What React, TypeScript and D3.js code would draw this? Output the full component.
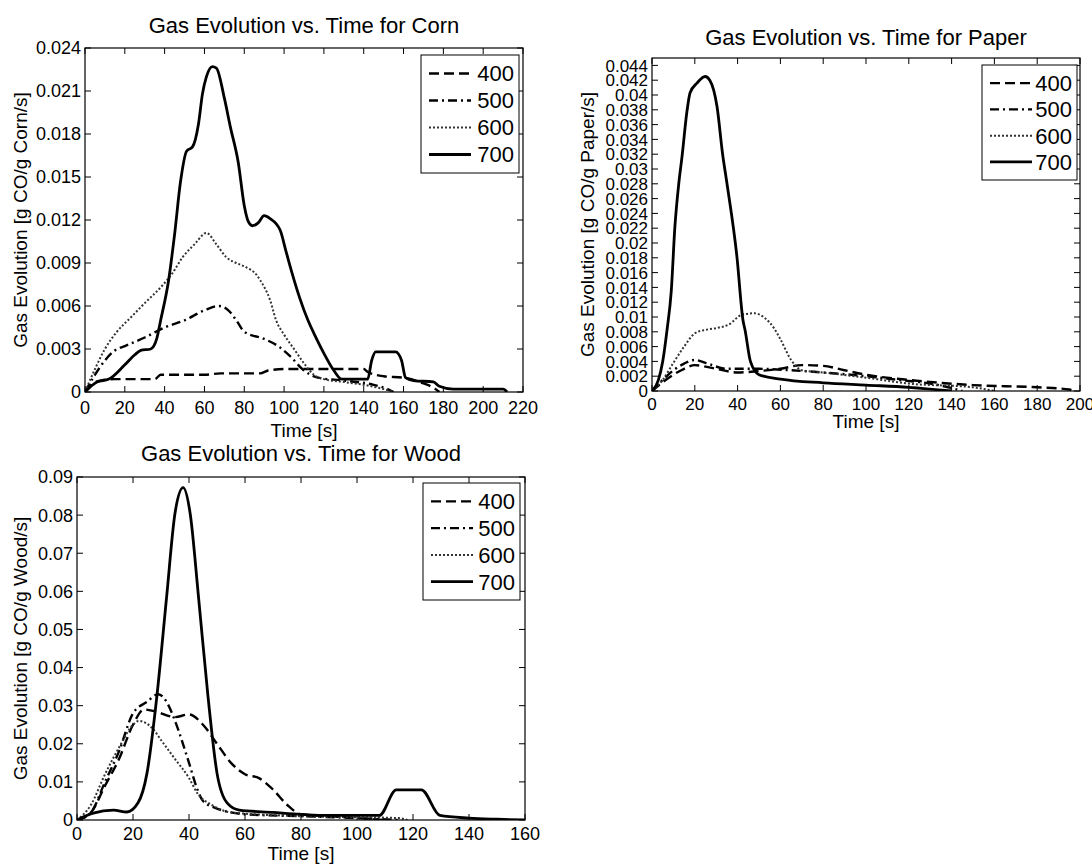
import React from "react";
import * as d3 from "d3";

type Pt = [number, number];

const seriesNames = ["400", "500", "600", "700"];

// Corn
const corn400: Pt[] = [[0,0],[3,0.0005],[8,0.0008],[15,0.0009],[35,0.0009],[38,0.0012],[60,0.0012],[68,0.0013],[88,0.0013],[92,0.0015],[100,0.0016],[140,0.0016],[142,0.0014],[150,0.0011],[160,0.001],[170,0.0006],[175,0.0003],[178,0]];
const corn500: Pt[] = [[0,0],[5,0.0012],[10,0.0022],[15,0.0029],[20,0.0032],[30,0.0038],[40,0.0045],[50,0.005],[60,0.0057],[67,0.006],[72,0.0057],[76,0.005],[80,0.0042],[90,0.0037],[97,0.0032],[103,0.0025],[110,0.0015],[117,0.001],[130,0.0008],[145,0.0005],[152,0.0002],[155,0]];
const corn600: Pt[] = [[0,0],[5,0.0016],[10,0.003],[16,0.0042],[23,0.0052],[30,0.0062],[38,0.0073],[44,0.0083],[49,0.0094],[55,0.0103],[61,0.0111],[66,0.0103],[71,0.0094],[76,0.009],[81,0.0087],[86,0.0082],[88,0.0078],[93,0.0064],[96,0.005],[100,0.004],[105,0.003],[110,0.002],[115,0.0012],[120,0.0009],[130,0.0007],[140,0.0005],[150,0.0002],[155,0]];
const corn700: Pt[] = [[0,0],[3,0.0004],[6,0.0007],[12,0.0009],[20,0.0019],[25,0.0026],[28,0.0029],[33,0.003],[36,0.0037],[38,0.005],[42,0.0078],[45,0.011],[48,0.0147],[51,0.0168],[54,0.0171],[57,0.0187],[59,0.0208],[61,0.022],[64,0.0227],[66,0.0226],[70,0.0205],[73,0.0185],[77,0.016],[80,0.013],[82,0.0119],[84,0.0116],[87,0.0118],[90,0.0123],[93,0.0121],[98,0.0113],[101,0.0098],[104,0.0083],[108,0.0065],[112,0.005],[116,0.0038],[120,0.0027],[125,0.0015],[129,0.0009],[142,0.0009],[144,0.0022],[146,0.0028],[156,0.0028],[159,0.0022],[161,0.001],[165,0.0008],[175,0.0007],[178,0.0004],[185,0.0002],[210,0.0002],[212,0]];

// Paper
const paper400: Pt[] = [[0,0],[5,0.0012],[10,0.0022],[15,0.003],[20,0.0035],[25,0.0033],[30,0.003],[40,0.0025],[50,0.0027],[60,0.003],[70,0.0035],[80,0.0034],[90,0.0028],[100,0.0022],[120,0.0015],[150,0.0008],[180,0.0005],[195,0.0002],[197,0]];
const paper500: Pt[] = [[0,0],[5,0.0015],[10,0.0028],[15,0.0037],[20,0.0042],[25,0.0038],[35,0.003],[50,0.003],[65,0.0028],[80,0.0025],[100,0.002],[115,0.0015],[130,0.001],[140,0.0004],[145,0]];
const paper600: Pt[] = [[0,0],[5,0.0015],[10,0.0038],[15,0.006],[20,0.0078],[24,0.0082],[30,0.0085],[36,0.009],[42,0.0103],[48,0.0105],[53,0.0098],[57,0.0085],[60,0.007],[65,0.0042],[70,0.0028],[80,0.0025],[100,0.0018],[120,0.001],[150,0.0005],[160,0]];
const paper700: Pt[] = [[0,0],[3,0.0015],[5,0.004],[7,0.0082],[9,0.0135],[10.7,0.0222],[12.5,0.028],[14,0.0316],[16.3,0.0377],[17.8,0.0403],[21,0.0416],[24.8,0.0425],[27,0.042],[30.4,0.0384],[33,0.032],[35,0.0281],[39.7,0.0181],[42.5,0.0096],[43.5,0.0082],[46,0.004],[50,0.0022],[60,0.0016],[80,0.0011],[100,0.0008],[120,0.0005],[140,0]];

// Wood
const wood400: Pt[] = [[0,0],[5,0.002],[10,0.009],[15,0.016],[20,0.025],[24,0.029],[28,0.0285],[35,0.027],[40,0.0277],[45,0.025],[50,0.02],[55,0.015],[60,0.012],[65,0.011],[70,0.008],[75,0.004],[80,0.0015],[90,0.001],[100,0.0005],[110,0]];
const wood500: Pt[] = [[0,0],[5,0.002],[10,0.01],[15,0.018],[20,0.028],[25,0.031],[29,0.033],[32,0.031],[35,0.026],[40,0.015],[43,0.008],[45,0.005],[50,0.003],[55,0.002],[60,0.0015],[80,0.001],[100,0.0005],[115,0]];
const wood600: Pt[] = [[0,0],[5,0.004],[10,0.012],[15,0.019],[20,0.025],[22,0.026],[27,0.024],[30,0.021],[35,0.016],[40,0.011],[43,0.007],[48,0.004],[55,0.002],[80,0.001],[115,0.0005],[118,0]];
const wood700: Pt[] = [[0,0],[5.8,0.0018],[13,0.0026],[17.8,0.0021],[21.8,0.0045],[25,0.0123],[28.5,0.0323],[32,0.0585],[35,0.0805],[37.9,0.0872],[40.4,0.0805],[43.4,0.0585],[46.8,0.0323],[50,0.0123],[53.6,0.0045],[58,0.0026],[70,0.002],[80,0.0015],[90,0.0012],[108,0.0012],[114,0.0079],[123,0.0079],[129.6,0.0012],[140,0.0005],[150,0.0002],[160,0]];

const cornXTicks = d3.range(0, 221, 20);
const cornYTicks = d3.range(0, 0.0241, 0.003);
const paperXTicks = d3.range(0, 201, 20);
const paperYTicks = d3.range(0, 0.0441, 0.002);
const woodXTicks = d3.range(0, 161, 20);
const woodYTicks = d3.range(0, 0.0901, 0.01);

const styles = [
  { dash: "10,5", width: 2.4, color: "#000" },
  { dash: "9,4,2,4", width: 2.4, color: "#000" },
  { dash: "2,2", width: 2, color: "#333" },
  { dash: "", width: 2.8, color: "#000" },
];

const FONT = "'Liberation Sans', Arial, Helvetica, sans-serif";

function fmt(v: number) {
  const r = Math.round(v * 1000) / 1000;
  if (r === 0) return "0";
  return String(r);
}

interface PanelProps {
  id: string;
  title: string;
  ylabel: string;
  series: Pt[][];
  xDomain: [number, number];
  yDomain: [number, number];
  xTicks: number[];
  yTicks: number[];
  left: number; right: number; top: number; bottom: number;
  titleY: number;
  xTickY: number;
  xLabelY: number;
  yLabelX: number;
  legend: { x: number; y: number; w: number; h: number };
  tickFont: number;
}

function Panel(p: PanelProps) {
  const x = d3.scaleLinear().domain(p.xDomain).range([p.left, p.right]);
  const y = d3.scaleLinear().domain(p.yDomain).range([p.bottom, p.top]);
  const line = d3.line<Pt>().x(d => x(d[0])).y(d => y(d[1])).curve(d3.curveMonotoneX);
  const tl = 6;
  const cx = (p.left + p.right) / 2;
  const cy = (p.top + p.bottom) / 2;
  const lg = p.legend;
  const rowH = (lg.h - 10) / 4;
  return (
    <g>
      <defs>
        <clipPath id={"clip-" + p.id}>
          <rect x={p.left} y={p.top} width={p.right - p.left} height={p.bottom - p.top} />
        </clipPath>
      </defs>
      <text x={cx} y={p.titleY} textAnchor="middle" fontSize={22} fontFamily={FONT}>{p.title}</text>
      <g clipPath={`url(#clip-${p.id})`}>
        {p.series.map((s, i) => (
          <path key={i} d={line(s) || ""} fill="none" stroke={styles[i].color}
            strokeWidth={styles[i].width} strokeDasharray={styles[i].dash} strokeLinejoin="round" />
        ))}
      </g>
      <rect x={p.left} y={p.top} width={p.right - p.left} height={p.bottom - p.top} fill="none" stroke="#000" strokeWidth={1.2} />
      {p.xTicks.map(t => (
        <g key={"xt" + t}>
          <line x1={x(t)} x2={x(t)} y1={p.bottom} y2={p.bottom - tl} stroke="#000" />
          <line x1={x(t)} x2={x(t)} y1={p.top} y2={p.top + tl} stroke="#000" />
          <text x={x(t)} y={p.xTickY} textAnchor="middle" fontSize={p.tickFont} fontFamily={FONT}>{fmt(t)}</text>
        </g>
      ))}
      {p.yTicks.map(t => (
        <g key={"yt" + t}>
          <line x1={p.left} x2={p.left + tl} y1={y(t)} y2={y(t)} stroke="#000" />
          <line x1={p.right} x2={p.right - tl} y1={y(t)} y2={y(t)} stroke="#000" />
          <text x={p.left - 4} y={y(t)} dy="0.36em" textAnchor="end" fontSize={p.tickFont} fontFamily={FONT}>{fmt(t)}</text>
        </g>
      ))}
      <text x={cx} y={p.xLabelY} textAnchor="middle" fontSize={19} fontFamily={FONT}>Time [s]</text>
      <text transform={`translate(${p.yLabelX},${cy}) rotate(-90)`} textAnchor="middle" dy="0.36em" fontSize={19} fontFamily={FONT}>{p.ylabel}</text>
      <rect x={lg.x} y={lg.y} width={lg.w} height={lg.h} fill="#fff" stroke="#000" strokeWidth={1} />
      {seriesNames.map((n, i) => {
        const yy = lg.y + 5 + rowH * (i + 0.5);
        return (
          <g key={n}>
            <line x1={lg.x + 8} x2={lg.x + 50} y1={yy} y2={yy} stroke={styles[i].color}
              strokeWidth={styles[i].width} strokeDasharray={styles[i].dash} />
            <text x={lg.x + lg.w - 5} y={yy} dy="0.36em" textAnchor="end" fontSize={22} fontFamily={FONT}>{n}</text>
          </g>
        );
      })}
    </g>
  );
}

export default function App() {
  return (
    <svg width={1092} height={866} style={{ position: "absolute", left: 0, top: 0, background: "#fff" }}>
      <rect x={0} y={0} width={1092} height={866} fill="#fff" />
      <Panel id="corn" title="Gas Evolution vs. Time for Corn" ylabel="Gas Evolution [g CO/g Corn/s]"
        series={[corn400, corn500, corn600, corn700]} xDomain={[0, 220]} yDomain={[0, 0.024]}
        xTicks={cornXTicks} yTicks={cornYTicks}
        left={85} right={523} top={48} bottom={392}
        titleY={33} xTickY={414} xLabelY={437} yLabelX={20}
        legend={{ x: 421, y: 55, w: 98, h: 118 }} tickFont={18} />
      <Panel id="paper" title="Gas Evolution vs. Time for Paper" ylabel="Gas Evolution [g CO/g Paper/s]"
        series={[paper400, paper500, paper600, paper700]} xDomain={[0, 200]} yDomain={[0, 0.045]}
        xTicks={paperXTicks} yTicks={paperYTicks}
        left={652} right={1080} top={58} bottom={391}
        titleY={45} xTickY={410} xLabelY={428} yLabelX={587}
        legend={{ x: 982, y: 65, w: 95, h: 115 }} tickFont={17} />
      <Panel id="wood" title="Gas Evolution vs. Time for Wood" ylabel="Gas Evolution [g CO/g Wood/s]"
        series={[wood400, wood500, wood600, wood700]} xDomain={[0, 160]} yDomain={[0, 0.09]}
        xTicks={woodXTicks} yTicks={woodYTicks}
        left={77} right={525} top={477} bottom={820}
        titleY={461} xTickY={840} xLabelY={860} yLabelX={20}
        legend={{ x: 423, y: 483, w: 97, h: 117 }} tickFont={18} />
    </svg>
  );
}
